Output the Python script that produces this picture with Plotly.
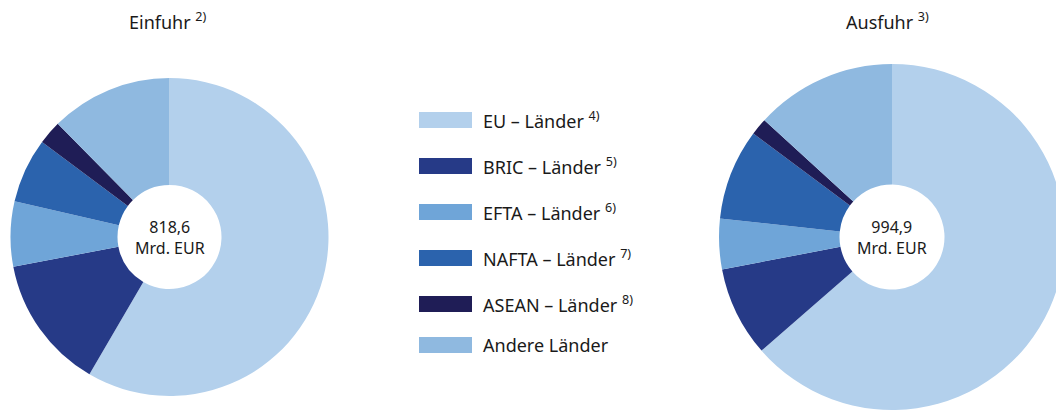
import plotly.graph_objects as go

# ---- data ----
categories = ["EU – Länder", "BRIC – Länder", "EFTA – Länder", "NAFTA – Länder", "ASEAN – Länder", "Andere Länder"]
footnotes = ["4)", "5)", "6)", "7)", "8)", ""]
einfuhr_share = [58.4, 13.6, 6.6, 6.6, 2.4, 12.4]   # % of imports
ausfuhr_share = [63.6, 8.4, 4.7, 8.5, 1.6, 13.2]    # % of exports
einfuhr_total = "818,6"
ausfuhr_total = "994,9"
unit = "Mrd. EUR"
titles = ["Einfuhr", "Ausfuhr"]
title_notes = ["2)", "3)"]
colors = ["#b3d0ec", "#263a87", "#6fa5d8", "#2b63ad", "#1f1d56", "#8fb9e0"]

W, H = 1072, 413
FONT = "Noto Sans"
TXT = "#1a1a1a"


def px_x(x):
    return x / W


def px_y(y):
    return 1 - y / H


fig = go.Figure()

# pie geometry (window pixels): centre x, centre y, radius, hole radius
pies = [
    (einfuhr_share, einfuhr_total, 169.5, 237, 159, 52),
    (ausfuhr_share, ausfuhr_total, 892, 237, 173, 52.5),
]

for vals, total, cx, cy, r, hr in pies:
    fig.add_trace(go.Pie(
        labels=categories,
        values=vals,
        sort=False,
        direction="clockwise",
        rotation=0,
        hole=hr / r,
        marker=dict(colors=colors, line=dict(width=0)),
        textinfo="none",
        hoverinfo="label+percent",
        showlegend=False,
        domain=dict(x=[max(0, px_x(cx - r)), min(1, px_x(cx + r))],
                    y=[max(0, px_y(cy + r)), min(1, px_y(cy - r))]),
    ))
    fig.add_annotation(x=px_x(cx), y=px_y(cy), xref="paper", yref="paper",
                       text=f"{total}<br>{unit}", showarrow=False,
                       xanchor="center", yanchor="middle",
                       font=dict(family=FONT, size=16, color=TXT))

# titles
for t, n, cx in zip(titles, title_notes, [168, 887]):
    fig.add_annotation(x=px_x(cx), y=px_y(21), xref="paper", yref="paper",
                       text=f"{t} <sup>{n}</sup>", showarrow=False,
                       xanchor="center", yanchor="middle",
                       font=dict(family=FONT, size=18, color=TXT))

# custom legend
row_y = [120, 166, 212, 258, 304, 345]
for cat, note, col, yy in zip(categories, footnotes, colors, row_y):
    fig.add_shape(type="rect", xref="paper", yref="paper",
                  x0=px_x(419), x1=px_x(472), y0=px_y(yy + 8), y1=px_y(yy - 8),
                  fillcolor=col, line=dict(width=0))
    label = f"{cat} <sup>{note}</sup>" if note else cat
    fig.add_annotation(x=px_x(481), y=px_y(yy), xref="paper", yref="paper",
                       text=label, showarrow=False, xanchor="left", yanchor="middle",
                       font=dict(family=FONT, size=18, color=TXT))

fig.update_layout(
    width=W, height=H,
    margin=dict(l=0, r=0, t=0, b=0),
    paper_bgcolor="white",
    plot_bgcolor="white",
    showlegend=False,
    font=dict(family=FONT),
)

fig.write_html(
    "out.html",
    config={"displayModeBar": False},
    post_script="document.body.style.margin='0';document.body.style.overflow='hidden';",
)
